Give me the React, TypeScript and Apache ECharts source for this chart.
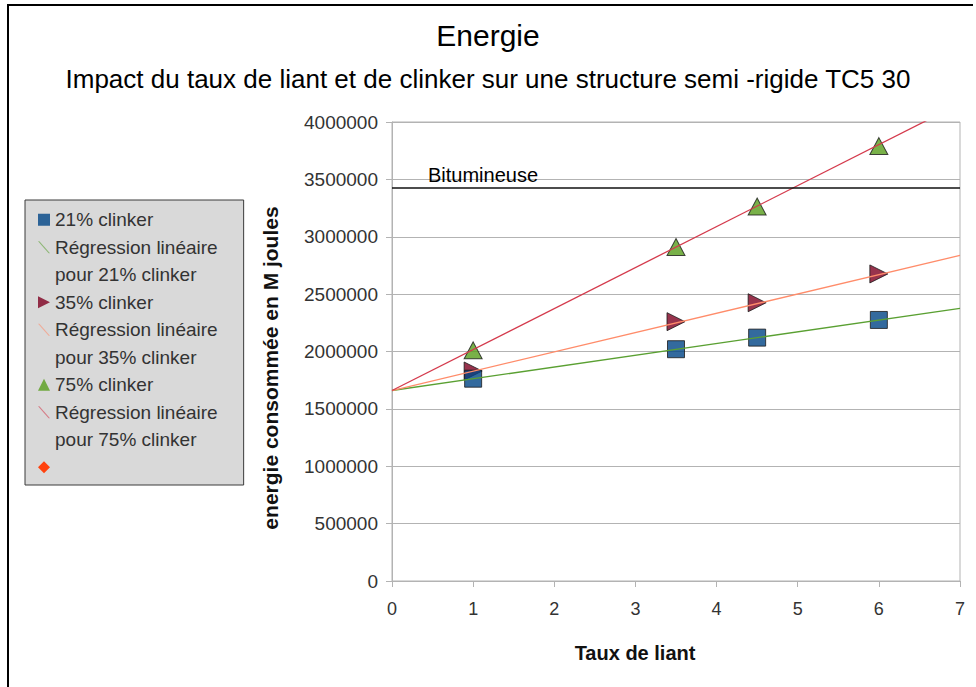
import React, { useEffect, useRef } from 'react';
import * as echarts from 'echarts';

// ---- data ----
const TITLE = 'Energie';
const SUBTITLE = 'Impact du taux de liant et de clinker sur une structure semi -rigide TC5 30';
const X_NAME = 'Taux de liant';
const Y_NAME = 'energie consommée en M joules';

const TAUX_LIANT = [1, 3.5, 4.5, 6];
const CLINKER_21 = [1763000, 2020000, 2121000, 2275000];
const CLINKER_35 = [1830000, 2260000, 2425000, 2676000];
const CLINKER_75 = [2010000, 2910000, 3263000, 3790000];

const REG_X = [0, 7];
const REG_21 = [1660000, 2376000];
const REG_35 = [1660000, 2838000];
const REG_75 = [1660000, 4160000];

const BITUMINEUSE = 3430000;

const X_MIN = 0;
const X_MAX = 7;
const X_INTERVAL = 1;
const Y_MIN = 0;
const Y_MAX = 4000000;
const Y_INTERVAL = 500000;

const NAME_21 = '21% clinker';
const NAME_35 = '35% clinker';
const NAME_75 = '75% clinker';
const REG_NAME_21 = 'Régression linéaire pour 21% clinker';
const REG_NAME_35 = 'Régression linéaire pour 35% clinker';
const REG_NAME_75 = 'Régression linéaire pour 75% clinker';
const POUR_21 = 'pour 21% clinker';
const POUR_35 = 'pour 35% clinker';
const POUR_75 = 'pour 75% clinker';
const BIT_NAME = 'Bitumineuse';

const FONT = '"Liberation Sans", Arial, sans-serif';

const C_BLUE = '#004586';
const C_DARKRED = '#7e0021';
const C_GREEN = '#579d1c';
const C_ORANGE = '#ff420e';
const C_REG21 = '#5aa032';
const C_REG35 = '#ff8c6a';
const C_REG75 = '#d43a4c';
const C_GRID = '#b3b3b3';

const DIAG = 'path://M0,0L1.4,0L12,12L10.6,12Z';
const RIGHT_TRI = 'path://M0,0L10,5L0,10Z';

const pairs = (xs: number[], ys: number[]) => xs.map((x, i) => [x, ys[i]]);

export default function App() {
  const ref = useRef<HTMLDivElement>(null);

  useEffect(() => {
    if (!ref.current) return;
    const chart = echarts.init(ref.current, null, { renderer: 'svg' });

    const markerBorder = { borderColor: '#1a1a1a', borderWidth: 1 };

    const option: any = {
      animation: false,
      backgroundColor: '#ffffff',
      textStyle: { fontFamily: FONT },
      title: [
        {
          text: TITLE,
          left: 'center',
          top: 15,
          padding: [5, 5, 5, 15],
          textStyle: { fontFamily: FONT, fontSize: 30, fontWeight: 'normal', color: '#000' },
        },
        {
          text: SUBTITLE,
          left: 'center',
          top: 61,
          padding: [5, 5, 5, 15],
          textStyle: { fontFamily: FONT, fontSize: 26, fontWeight: 'normal', color: '#000' },
        },
      ],
      graphic: [
        { type: 'line', shape: { x1: 7, y1: 5, x2: 973, y2: 5 }, style: { stroke: '#000', lineWidth: 2 } },
        { type: 'line', shape: { x1: 8, y1: 5, x2: 8, y2: 690 }, style: { stroke: '#000', lineWidth: 2 } },
      ],
      legend: {
        orient: 'vertical',
        left: 25,
        top: 200,
        padding: [6, 26, 4, 13],
        itemGap: 0,
        itemWidth: 12,
        itemHeight: 12,
        selectedMode: false,
        backgroundColor: '#d9d9d9',
        borderColor: '#3a3a3a',
        borderWidth: 1,
        textStyle: { fontFamily: FONT, fontSize: 19, color: '#333', lineHeight: 27.5 },
        formatter: (name: string) => {
          if (name.startsWith('Régression')) return 'Régression linéaire';
          if (name === BIT_NAME) return ' ';
          return name;
        },
        data: [
          { name: NAME_21, icon: 'rect', itemStyle: { color: C_BLUE, borderWidth: 0 } },
          { name: REG_NAME_21, icon: DIAG, itemStyle: { color: C_REG21, borderWidth: 0, opacity: 0.6 } },
          { name: POUR_21, icon: 'none' },
          { name: NAME_35, icon: RIGHT_TRI, itemStyle: { color: C_DARKRED, borderWidth: 0 } },
          { name: REG_NAME_35, icon: DIAG, itemStyle: { color: C_REG35, borderWidth: 0, opacity: 0.6 } },
          { name: POUR_35, icon: 'none' },
          { name: NAME_75, icon: 'triangle', itemStyle: { color: C_GREEN, borderWidth: 0 } },
          { name: REG_NAME_75, icon: DIAG, itemStyle: { color: C_REG75, borderWidth: 0, opacity: 0.6 } },
          { name: POUR_75, icon: 'none' },
          { name: BIT_NAME, icon: 'diamond', itemStyle: { color: C_ORANGE, borderWidth: 0 } },
        ],
      },
      grid: {
        left: 392,
        right: 16,
        top: 122,
        bottom: 106,
        show: true,
        borderColor: C_GRID,
        borderWidth: 1,
        backgroundColor: 'transparent',
      },
      xAxis: {
        type: 'value',
        min: X_MIN,
        max: X_MAX,
        interval: X_INTERVAL,
        name: X_NAME,
        nameLocation: 'middle',
        nameGap: 62,
        nameTextStyle: {
          fontFamily: FONT,
          fontSize: 20,
          fontWeight: 'bold',
          color: '#111',
          padding: [0, 82, 0, 0],
        },
        axisLine: { show: true, lineStyle: { color: C_GRID, width: 1 } },
        axisTick: { show: true, length: 6, lineStyle: { color: C_GRID } },
        axisLabel: { fontFamily: FONT, fontSize: 18, color: '#333', margin: 19 },
        splitLine: { show: false },
      },
      yAxis: {
        type: 'value',
        min: Y_MIN,
        max: Y_MAX,
        interval: Y_INTERVAL,
        name: Y_NAME,
        nameLocation: 'middle',
        nameGap: 111,
        nameTextStyle: {
          fontFamily: FONT,
          fontSize: 21,
          fontWeight: 'bold',
          color: '#111',
          padding: [0, 33, 0, 0],
        },
        axisLine: { show: true, lineStyle: { color: C_GRID, width: 1 } },
        axisTick: { show: true, length: 6, lineStyle: { color: C_GRID } },
        axisLabel: {
          fontFamily: FONT,
          fontSize: 19,
          color: '#333',
          margin: 14,
          formatter: (v: number) => String(v),
        },
        splitLine: { show: true, lineStyle: { color: C_GRID, width: 1 } },
      },
      series: [
        {
          name: BIT_NAME,
          type: 'line',
          data: [],
          z: 3,
          itemStyle: { color: C_ORANGE },
          markLine: {
            silent: true,
            symbol: ['none', 'none'],
            lineStyle: { color: '#111', width: 1.5, type: 'solid' },
            label: {
              show: true,
              position: 'insideStartTop',
              formatter: BIT_NAME,
              fontFamily: FONT,
              fontSize: 20,
              color: '#000',
              distance: 2,
              padding: [0, 0, 0, 34],
            },
            data: [{ yAxis: BITUMINEUSE }],
          },
        },
        {
          name: NAME_75,
          type: 'scatter',
          symbol: 'triangle',
          symbolSize: [18, 17],
          z: 2,
          itemStyle: { color: C_GREEN, ...markerBorder },
          data: pairs(TAUX_LIANT, CLINKER_75),
        },
        {
          name: NAME_35,
          type: 'scatter',
          symbol: 'triangle',
          symbolRotate: -90,
          symbolSize: [18, 18],
          z: 2,
          itemStyle: { color: C_DARKRED, ...markerBorder },
          data: pairs(TAUX_LIANT, CLINKER_35),
        },
        {
          name: NAME_21,
          type: 'scatter',
          symbol: 'rect',
          symbolSize: 17,
          z: 2,
          itemStyle: { color: C_BLUE, ...markerBorder },
          data: pairs(TAUX_LIANT, CLINKER_21),
        },
        {
          name: REG_NAME_21,
          type: 'line',
          showSymbol: false,
          symbol: 'none',
          clip: true,
          z: 4,
          lineStyle: { color: C_REG21, width: 1.3 },
          itemStyle: { color: C_REG21 },
          data: pairs(REG_X, REG_21),
        },
        {
          name: REG_NAME_35,
          type: 'line',
          showSymbol: false,
          symbol: 'none',
          clip: true,
          z: 4,
          lineStyle: { color: C_REG35, width: 1.3 },
          itemStyle: { color: C_REG35 },
          data: pairs(REG_X, REG_35),
        },
        {
          name: REG_NAME_75,
          type: 'line',
          showSymbol: false,
          symbol: 'none',
          clip: true,
          z: 4,
          lineStyle: { color: C_REG75, width: 1.3 },
          itemStyle: { color: C_REG75 },
          data: pairs(REG_X, REG_75),
        },
        { name: POUR_21, type: 'line', data: [] },
        { name: POUR_35, type: 'line', data: [] },
        { name: POUR_75, type: 'line', data: [] },
      ],
    };

    chart.setOption(option);
    return () => {
      chart.dispose();
    };
  }, []);

  return (
    <div
      ref={ref}
      style={{ position: 'fixed', left: 0, top: 0, width: 976, height: 687, background: '#fff' }}
    />
  );
}
